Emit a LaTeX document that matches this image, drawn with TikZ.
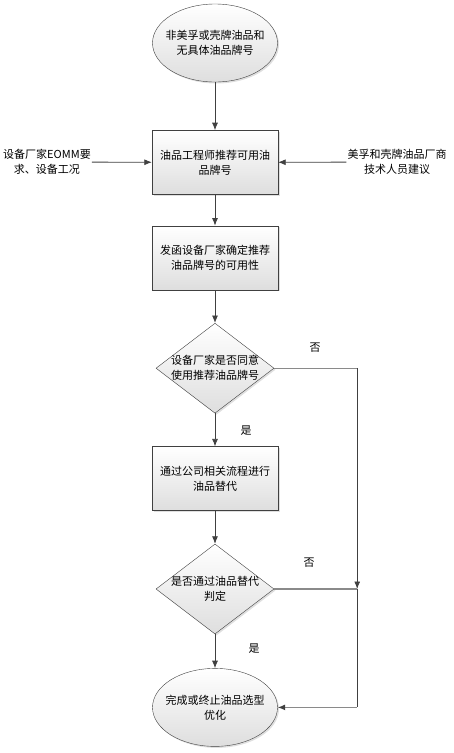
\documentclass[tikz,border=0pt]{standalone}
\usepackage{fontspec}
\setmainfont{Noto Sans CJK SC}
\usepackage{tikz}
\usetikzlibrary{arrows.meta}
\usetikzlibrary{positioning}
\usetikzlibrary{shapes.geometric}
\usetikzlibrary{shadows}

\definecolor{edgegray}{HTML}{404040}
\definecolor{fillgray}{HTML}{DEDEDE}
\definecolor{routegray}{HTML}{8A8A8A}

\tikzset{
  shaded/.style={draw=edgegray,top color=white,bottom color=fillgray,
    drop shadow={shadow xshift=1.5pt,shadow yshift=-1.5pt,opacity=0.25}},
  flowbox/.style={shaded,rectangle,minimum width=126pt,minimum height=64pt,
    text width=112pt,align=center},
  startend/.style={shaded,ellipse,minimum width=125pt,minimum height=78pt,
    inner sep=-9pt,align=center},
  decision/.style={shaded,diamond,aspect=1.3,minimum width=118pt,
    minimum height=90pt,inner sep=-6pt,align=center},
  sidetext/.style={align=center,inner sep=1pt},
  branch/.style={inner sep=0pt},
  flowline/.style={draw=edgegray,line width=0.8pt},
  routeline/.style={draw=routegray,line width=1.2pt}
}

\begin{document}
\begin{tikzpicture}[x=1pt,y=-1pt,font=\fontsize{11pt}{15pt}\selectfont,
    >={Latex[length=7.5pt,width=6pt,color=edgegray]}]

  \useasboundingbox (0,0) rectangle (453,753);

  \node [startend] (start) at (215,43) {非美孚或壳牌油品和\\无具体油品牌号};
  \node [flowbox,below=48pt of start] (recommend) {油品工程师推荐可用油\\品牌号};
  \node [flowbox,below=31pt of recommend] (letter) {发函设备厂家确定推荐\\油品牌号的可用性};
  \node [decision,below=33pt of letter] (agree) {设备厂家是否同意\\使用推荐油品牌号};
  \node [flowbox,below=33pt of agree] (replace) {通过公司相关流程进行\\油品替代};
  \node [decision,below=33pt of replace] (pass) {是否通过油品替代\\判定};
  \node [startend,below=34pt of pass] (finish) {完成或终止油品选型\\优化};

  \node [sidetext] (oemreq) at (47,162) {设备厂家EOMM要\\求、设备工况};
  \node [sidetext] (vendor) at (397,162) {美孚和壳牌油品厂商\\技术人员建议};

  \coordinate [right=83pt of pass.east] (merge);

  \node [branch] (noagree) at (315,348) {否};
  \node [branch] (yesagree) at (246,431) {是};
  \node [branch] (nopass) at (309,563) {否};
  \node [branch] (yespass) at (254,649) {是};

  \path [flowline,->]
    (start)   edge (recommend)
    (recommend) edge (letter)
    (letter)  edge (agree)
    (agree)   edge (replace)
    (replace) edge (pass)
    (pass)    edge (finish)
    (oemreq)  edge (recommend)
    (vendor)  edge (recommend);

  \draw [routeline] (agree.east) -- (agree.east -| merge);
  \draw [routeline] (pass.east) -- (merge);
  \draw [flowline,->] (agree.east -| merge) -- (merge);
  \draw [flowline] (merge) -- (merge |- finish.east);
  \draw [routeline,->] (merge |- finish.east) -- (finish.east);

\end{tikzpicture}
\end{document}
